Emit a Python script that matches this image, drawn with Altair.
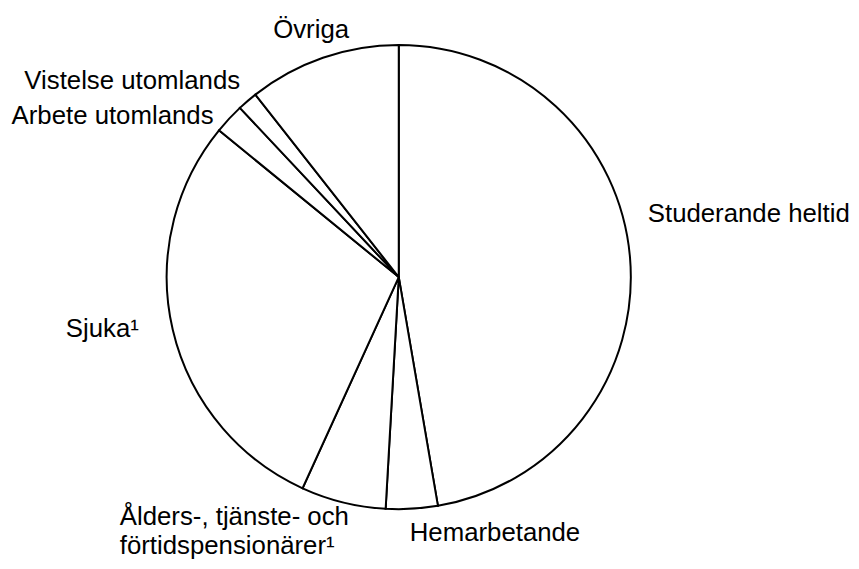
import altair as alt
import pandas as pd

# Data (percent shares), clockwise from 12 o'clock
keys = ["stud", "hem", "ald", "sjuk", "arb", "vist", "ovr"]
values = [47.3, 3.6, 5.9, 29.1, 2.1, 1.4, 10.6]
labels = [
    "Studerande heltid",
    "Hemarbetande",
    "Ålders-, tjänste- och\nförtidspensionärer¹",
    "Sjuka¹",
    "Arbete utomlands",
    "Vistelse utomlands",
    "Övriga",
]

df = pd.DataFrame({"key": keys, "value": values, "label": labels})
df["end"] = df["value"].cumsum()
df["start"] = df["end"] - df["value"]
df["mid"] = df["end"] - df["value"] / 2
total = float(df["value"].sum())

theta_scale = alt.Scale(domain=[0, total])
FONT = "Liberation Sans"
FS = 26

arcs = alt.Chart(df).mark_arc(
    radius=234, fill="white", stroke="black", strokeWidth=2
).encode(
    theta=alt.Theta("start:Q", scale=theta_scale),
    theta2="end:Q",
)

# label placement style: (radius, dx, dy, align)
placement = {
    "stud": (250, 2, -34, "left"),
    "hem": (267, -4, 0, "left"),
    "ald": (260, -219, -2, "left"),
    "sjuk": (265, -4, 0, "right"),
    "arb": (250, -4, 16, "right"),
    "vist": (250, 3, 0, "right"),
    "ovr": (255, -5, 0, "center"),
}

layers = [arcs]
for k, (r, dx, dy, al) in placement.items():
    layers.append(
        alt.Chart(df)
        .transform_filter(alt.datum.key == k)
        .mark_text(
            radius=r, dx=dx, dy=dy, align=al, baseline="alphabetic",
            font=FONT, fontSize=FS, color="black",
            lineBreak="\n", lineHeight=28.5,
        )
        .encode(theta=alt.Theta("mid:Q", scale=theta_scale), text="label:N")
    )

chart = (
    alt.layer(*layers)
    .properties(
        width=788,
        height=538,
        autosize=alt.AutoSizeParams(type="none"),
        padding={"left": 0, "top": 0, "right": 62, "bottom": 18},
        background="white",
    )
    .configure_view(stroke=None)
)

chart.save("out.html", embed_options={"renderer": "svg", "actions": False})
